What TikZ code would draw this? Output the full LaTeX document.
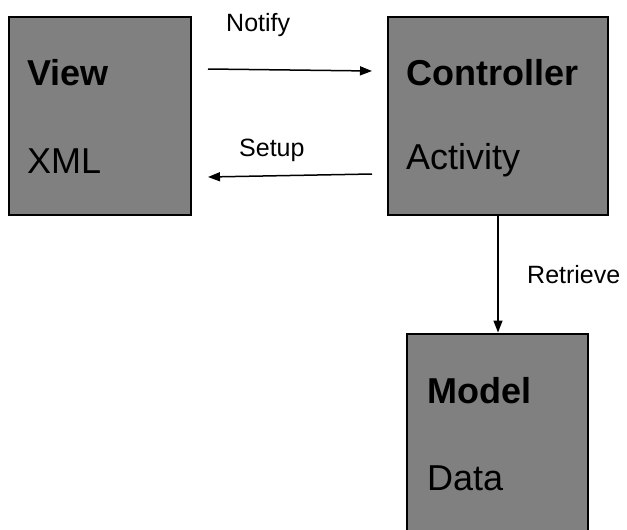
\documentclass[tikz,border=0pt]{standalone}
\usepackage{fontspec}
\setmainfont{Liberation Sans}
\usetikzlibrary{arrows.meta}
\definecolor{boxgray}{HTML}{808080}
\begin{document}
\begin{tikzpicture}[x=1pt,y=-1pt,
  box/.style={draw=black, line width=2pt, fill=boxgray, anchor=north west,
              inner sep=0pt, outer sep=0pt},
  big/.style={anchor=base west, inner sep=0pt, font=\fontsize{36}{40}\selectfont},
  lbl/.style={anchor=base west, inner sep=0pt, font=\fontsize{25}{30}\selectfont},
  arr/.style={line width=1.5pt, -{Triangle[length=12pt,width=9pt]}}]
  \useasboundingbox (0,0) rectangle (627,530);
  \clip (0,0) rectangle (627,530);

  % the three component boxes
  \node[box, minimum width=182pt, minimum height=198pt] (view) at (9,17) {};
  \node[box, minimum width=220pt, minimum height=198pt] (ctrl) at (388,17) {};
  \node[box, minimum width=181pt, minimum height=220pt] (model) at (407,334) {};

  % box texts
  \node[big] (viewT)  at (27,85)  {\bfseries View};
  \node[big] (viewS)  at (27,173) {XML};
  \node[big] (ctrlT)  at (406,85) {\bfseries Controller};
  \node[big] (ctrlS)  at (406,169) {Activity};
  \node[big] (modelT) at (427,403) {\bfseries Model};
  \node[big] (modelS) at (427,490) {Data};

  % connectors
  \draw[arr] ([xshift=17pt,yshift=47pt]view.east) -- ([xshift=-16pt,yshift=45pt]ctrl.west);
  \draw[arr] ([xshift=-16pt,yshift=-58pt]ctrl.west) -- ([xshift=17pt,yshift=-61pt]view.east);
  \draw[arr, shorten >=1.5pt] (ctrl.south) -- (ctrl.south |- model.north);

  % connector labels
  \node[lbl] (notify)   at (226,31)  {Notify};
  \node[lbl] (setup)    at (239,156) {Setup};
  \node[lbl] (retrieve) at (527,283) {Retrieve};
\end{tikzpicture}
\end{document}
